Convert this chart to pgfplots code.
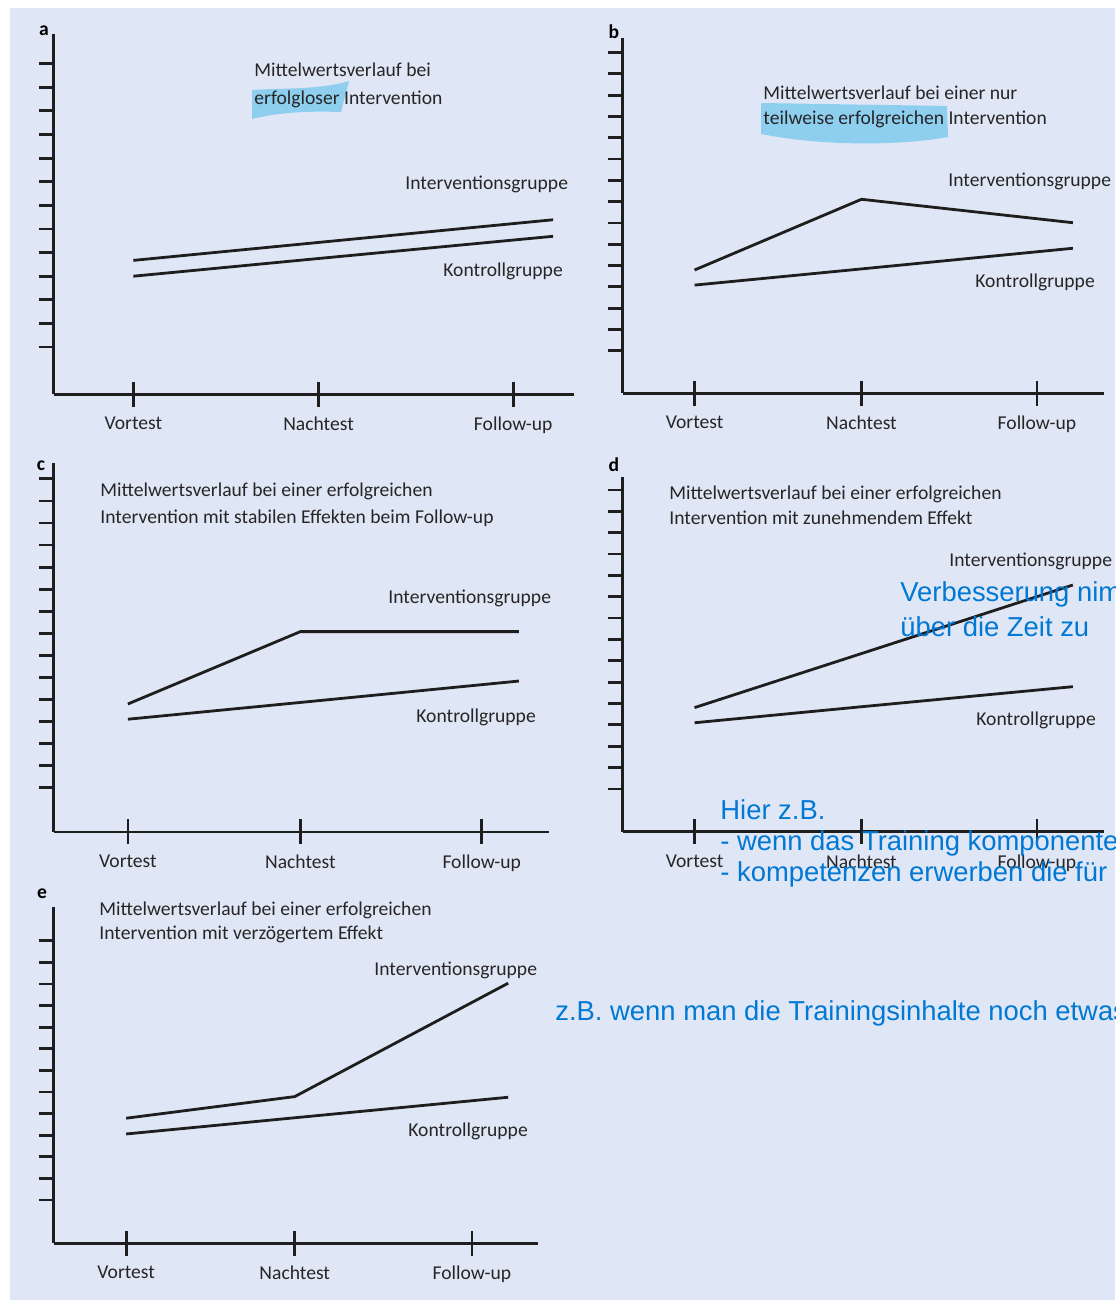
\documentclass[border=0pt]{standalone}
\usepackage{pgfplots}
\pgfplotsset{compat=1.18}
\usepackage{fontspec}
\setmainfont{Carlito}
\newfontfamily\notefont{Liberation Sans}

\definecolor{bg}{RGB}{223,230,245}
\definecolor{hl}{RGB}{142,207,240}
\definecolor{ink}{RGB}{30,30,30}
\definecolor{txt}{RGB}{38,38,38}
\definecolor{note}{RGB}{0,120,212}

\newcommand{\pf}{\fontsize{9.8}{12}\selectfont}
\newcommand{\nf}{\fontsize{13.7}{16}\selectfont\notefont}

\pgfplotsset{
  panel/.style={
    scale only axis,
    anchor=south west,
    axis lines=left,
    axis line style={-, line width=1.4pt, draw=ink},
    every outer x axis line/.append style={-},
    every outer y axis line/.append style={-},
    every inner x axis line/.append style={-},
    every inner y axis line/.append style={-},
    xmin=-0.42, ymin=0,
    % short outward ticks on the value axis
    yticklabels={},
    tick align=outside,
    major tick length=7.5pt,
    major tick style={line width=1.4pt, draw=ink},
    % long ticks crossing the time axis
    xtick=\empty,
    extra x ticks={0,0.975,2},
    extra x tick labels={Vortest,Nachtest,Follow-up},
    extra x tick style={tick align=center, major tick length=12.5pt,
      xticklabel style={font=\pf, text=txt, inner sep=0pt, yshift=-5pt}},
    clip=false,
  },
  grp/.style={line width=1.4pt, draw=ink, no markers, line join=miter},
}

\begin{document}
\begin{tikzpicture}
\path[use as bounding box, clip] (0,0) rectangle (557.5pt,651pt);
\fill[white] (0,0) rectangle (557.5pt,651pt);
\fill[bg] (5pt,1pt) rectangle (557.5pt,647pt);

% highlighter strokes behind two words
\begin{scope}[x=0.5pt, y=-0.5pt, yshift=651pt]
  \fill[hl] (252,90) .. controls (280,88) and (320,90) .. (349,81)
            -- (341,112) .. controls (310,111) and (280,112) .. (252,119) -- cycle;
  \fill[hl] (761,103) -- (947,106) -- (948,137)
            .. controls (900,146) and (820,146) .. (761,134) -- cycle;
\end{scope}

% a: erfolglose Intervention
\begin{axis}[panel, at={(26.8pt,453.85pt)}, width=260.2pt, height=180.2pt,
  xmax=2.32, ymax=15.26, ytick={2,...,14}]
  \addplot[grp] coordinates {(0,5.67) (0.975,6.43) (2.21,7.39)};
  \addplot[grp] coordinates {(0,5.00) (0.975,5.75) (2.21,6.69)};
\end{axis}

% b: teilweise erfolgreiche Intervention
\begin{axis}[panel, at={(311.35pt,454.35pt)}, width=240.5pt, height=177.5pt,
  xmax=2.39, ymax=16.67, ytick={2,...,16}]
  \addplot[grp] coordinates {(0,5.79) (0.975,9.11) (2.21,8.01)};
  \addplot[grp] coordinates {(0,5.08) (0.975,5.84) (2.21,6.81)};
\end{axis}

% c: stabile Effekte
\begin{axis}[panel, at={(26.8pt,235pt)}, width=247.7pt, height=184.5pt,
  xmax=2.38, ymax=16.72, ytick={2,...,16}]
  \addplot[grp] coordinates {(0,5.80) (0.975,9.08) (2.21,9.08)};
  \addplot[grp] coordinates {(0,5.11) (0.975,5.87) (2.21,6.84)};
\end{axis}

% d: zunehmender Effekt
\begin{axis}[panel, at={(311.35pt,235.15pt)}, width=240.5pt, height=177.5pt,
  xmax=2.39, ymax=16.62, ytick={2,...,16}]
  \addplot[grp] coordinates {(0,5.81) (0.975,8.34) (2.21,11.55)};
  \addplot[grp] coordinates {(0,5.10) (0.975,5.85) (2.21,6.79)};
\end{axis}

% e: verzoegerter Effekt
\begin{axis}[panel, at={(26.8pt,29.35pt)}, width=242pt, height=168.3pt,
  xmax=2.38, ymax=15.58, ytick={2,...,14}]
  \addplot[grp] coordinates {(0,5.79) (0.975,6.79) (2.21,12.04)};
  \addplot[grp] coordinates {(0,5.06) (0.975,5.81) (2.21,6.76)};
\end{axis}

\begin{scope}[x=0.5pt, y=-0.5pt, yshift=651pt,
  every node/.style={inner sep=0pt, anchor=west, text=txt, font=\pf}]
  % panel letters
  \node[anchor=center, font=\pf\bfseries, text=black] at (44,31) {a};
  \node[anchor=center, font=\pf\bfseries, text=black] at (614,32) {b};
  \node[anchor=center, font=\pf\bfseries, text=black] at (41,466) {c};
  \node[anchor=center, font=\pf\bfseries, text=black] at (614,465) {d};
  \node[anchor=center, font=\pf\bfseries, text=black] at (42,894) {e};
  % a
  \node at (254,70) {Mittelwertsverlauf bei};
  \node at (254,99) {erfolgloser Intervention};
  \node at (405,184) {Interventionsgruppe};
  \node at (443,271) {Kontrollgruppe};
  % b
  \node at (763,93) {Mittelwertsverlauf bei einer nur};
  \node at (763,119) {teilweise erfolgreichen Intervention};
  \node at (948,181) {Interventionsgruppe};
  \node at (975,282) {Kontrollgruppe};
  % c
  \node at (100,491) {Mittelwertsverlauf bei einer erfolgreichen};
  \node at (100,518) {Intervention mit stabilen Effekten beim Follow-up};
  \node at (388,598) {Interventionsgruppe};
  \node at (416,717) {Kontrollgruppe};
  % d
  \node at (669,494) {Mittelwertsverlauf bei einer erfolgreichen};
  \node at (669,518) {Intervention mit zunehmendem Effekt};
  \node at (949,561) {Interventionsgruppe};
  \node at (976,720) {Kontrollgruppe};
  % e
  \node at (99,910) {Mittelwertsverlauf bei einer erfolgreichen};
  \node at (99,934) {Intervention mit verzögertem Effekt};
  \node at (374,970) {Interventionsgruppe};
  \node at (408,1131) {Kontrollgruppe};
  % notes
  \node[font=\nf, text=note] at (900,594) {Verbesserung nimmt};
  \node[font=\nf, text=note] at (900,627) {über die Zeit zu};
  \node[font=\nf, text=note] at (720,810) {Hier z.B.};
  \node[font=\nf, text=note] at (720,843) {- wenn das Training komponenten};
  \node[font=\nf, text=note] at (720,874) {- kompetenzen erwerben die für};
  \node[font=\nf, text=note] at (555,1013) {z.B. wenn man die Trainingsinhalte noch etwas};
\end{scope}
\end{tikzpicture}
\end{document}
